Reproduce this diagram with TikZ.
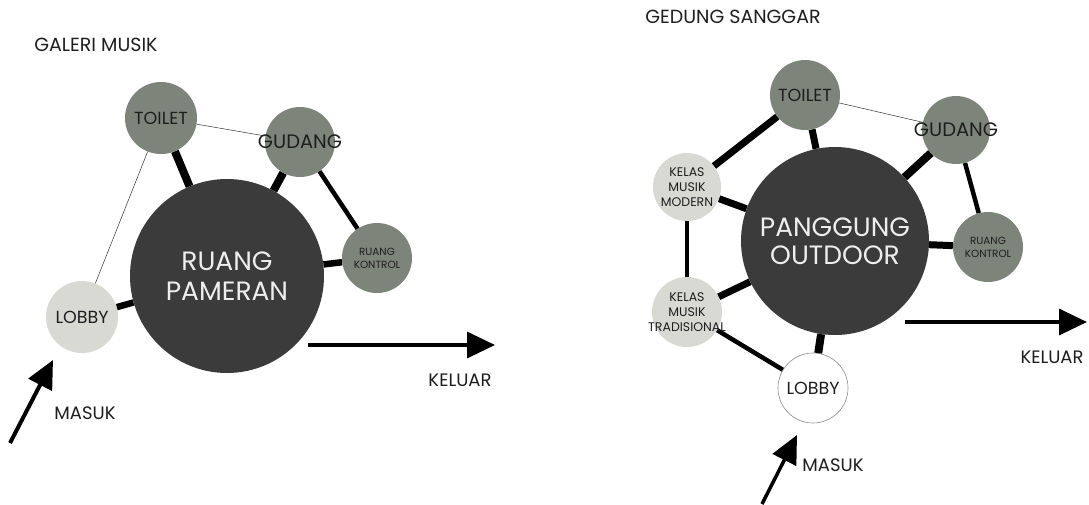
\documentclass[tikz,border=0pt]{standalone}
\usepackage{fontspec}
\setmainfont{Poppins}
\usetikzlibrary{arrows.meta}
\definecolor{darkc}{HTML}{3B3B3B}
\definecolor{sagec}{HTML}{7D857B}
\definecolor{lightc}{HTML}{D9D9D4}
\definecolor{txtd}{HTML}{1E1E1E}
\definecolor{txtl}{HTML}{EEEEEE}
\tikzset{
  bigc/.style={circle, fill=darkc, inner sep=0pt, text=txtl, align=center},
  midc/.style={circle, fill=sagec, inner sep=0pt, text=txtd, align=center},
  lgtc/.style={circle, fill=lightc, inner sep=0pt, text=txtd, align=center},
  whtc/.style={circle, draw=black!45, line width=0.6pt, fill=white, inner sep=0pt, text=txtd, align=center},
  lbl/.style={text=txtd, font=\fontsize{18}{20}\selectfont},
  ttl/.style={text=txtd, font=\fontsize{19}{21}\selectfont},
  hvy/.style={line width=8pt, black},
  mdm/.style={line width=4.5pt, black},
  thn/.style={line width=0.5pt, black!80},
  flow/.style={line width=3.5pt, -{Triangle[length=28pt,width=26pt]}},
  fbig/.style={font=\fontsize{26.5}{30}\selectfont},
  fmid/.style={font=\fontsize{17.5}{19}\selectfont},
  fgud/.style={font=\fontsize{19.5}{21}\selectfont},
  fsml/.style={font=\fontsize{10.4}{13}\selectfont},
  fkls/.style={font=\fontsize{12.5}{15}\selectfont},
}
\begin{document}
\begin{tikzpicture}[x=1pt,y=-1pt]
\useasboundingbox (0,0) rectangle (1089,504);
\fill[white] (0,0) rectangle (1089,504);
% ---------- LEFT: GALERI MUSIK ----------
\node[ttl] (gm) at (96,45) {GALERI MUSIK};
\node[midc, minimum size=72pt, fmid] (lt) at (161,118) {TOILET};
\node[midc, minimum size=70pt] (lg) at (300,142) {};
\node[midc, minimum size=70pt, fsml] (lk) at (377,258) {RUANG\\KONTROL};
\node[bigc, minimum size=194pt, fbig] (lp) at (227,276) {RUANG\\PAMERAN};
\node[lgtc, minimum size=72pt, fmid] (ll) at (82,317) {LOBBY};
\draw[hvy] (lt) -- (lp);
\draw[hvy] (lg) -- (lp);
\draw[line width=6.5pt] (lk) -- (lp);
\draw[line width=6.5pt] (ll) -- (lp);
\draw[mdm] (lg) -- (lk);
\draw[thn] (lt) -- (lg);
\draw[thn] (lt) -- (ll);
\node[text=txtd, fgud] (lgt) at (lg) {GUDANG};
\coordinate (lko0) at (308,345);
\coordinate (lko1) at (495,345);
\draw[flow] (lko0) -- (lko1);
\node[lbl] (lkt) at (460,380) {KELUAR};
\coordinate (lmi0) at (10,443);
\coordinate (lmi1) at (53,360);
\draw[flow, line width=4pt] (lmi0) -- (lmi1);
\node[lbl] (lmt) at (85,413) {MASUK};
% ---------- RIGHT: GEDUNG SANGGAR ----------
\node[ttl] (gs) at (733,17) {GEDUNG SANGGAR};
\node[midc, minimum size=70pt, fmid] (rt) at (805,95) {TOILET};
\node[midc, minimum size=68pt] (rg) at (956,130) {};
\node[lgtc, minimum size=68pt, fkls] (rm) at (687,187) {KELAS\\MUSIK\\MODERN};
\node[lgtc, minimum size=70pt] (rr) at (687,312) {};
\node[bigc, minimum size=188pt, font=\fontsize{26.5}{28}\selectfont] (rp) at (835,241) {PANGGUNG\\OUTDOOR};
\node[midc, minimum size=70pt, fsml] (rk) at (988,247) {RUANG\\KONTROL};
\node[whtc, minimum size=70pt, fmid] (rl) at (813,388) {LOBBY};
\draw[line width=7pt] (rt) -- (rm);
\draw[line width=7pt] (rt) -- (rp);
\draw[line width=7pt] (rm) -- (rp);
\draw[mdm] (rm) -- (rr);
\draw[line width=7pt] (rr) -- (rp);
\draw[mdm] (rr) -- (rl);
\draw[hvy] (rl) -- (rp);
\draw[hvy] (rg) -- (rp);
\draw[mdm] (rg) -- (rk);
\draw[line width=7pt] (rk) -- (rp);
\draw[thn] (rt) -- (rg);
\node[text=txtd, fgud] (rgt) at (rg) {GUDANG};
\node[text=txtd, align=center, fkls] (rrt) at (rr) {KELAS\\MUSIK\\TRADISIONAL};
\coordinate (rko0) at (905,322);
\coordinate (rko1) at (1087,322);
\draw[flow] (rko0) -- (rko1);
\node[lbl] (rkt) at (1052,357) {KELUAR};
\coordinate (rmi0) at (762,504);
\coordinate (rmi1) at (797,435);
\draw[flow] (rmi0) -- (rmi1);
\node[lbl] (rmt) at (833,465) {MASUK};
\end{tikzpicture}
\end{document}
